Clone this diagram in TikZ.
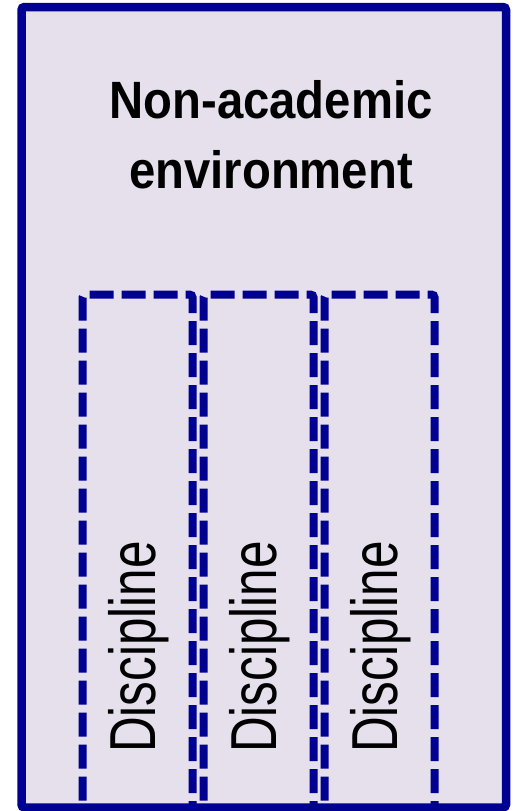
\documentclass[tikz,border=0pt]{standalone}
\usepackage{fontspec}
\usepackage{tikz}
\newfontfamily\headfont[FakeStretch=0.9]{Liberation Sans}
\newfontfamily\discfont[FakeStretch=0.76]{Liberation Sans}
\definecolor{envfill}{RGB}{229,224,236}
\definecolor{envblue}{RGB}{0,0,145}

\begin{document}
\begin{tikzpicture}[x=1pt,y=-1pt]
	  \useasboundingbox (0,0) rectangle (512,811);
	  \draw[envblue, line width=8.5pt, fill=envfill, rounded corners=3pt](21.5,7) rectangle (506,807.5);
	  \draw(271,188) node[anchor=base, align=center, inner sep=0pt, font=\headfont\bfseries\fontsize{52.5}{69.7}\selectfont](env) {Non-academic\\environment};
	  \foreach \i / \txt in {0/Discipline,1/Discipline,2/Discipline}
	  {
		\draw[envblue, line width=8pt, dash pattern=on 24pt off 8pt, dash phase=2.7pt, rounded corners=3pt]
		  (82.5+\i*121,830) -- (82.5+\i*121,294.5) -- (192.5+\i*121,294.5) -- (192.5+\i*121,830);
		\draw(155+\i*121,753) node[rotate=90, anchor=base west, inner sep=0pt, font=\discfont\fontsize{65}{78}\selectfont](d\i) {\txt};
	  }
	\end{tikzpicture}
\end{document}
